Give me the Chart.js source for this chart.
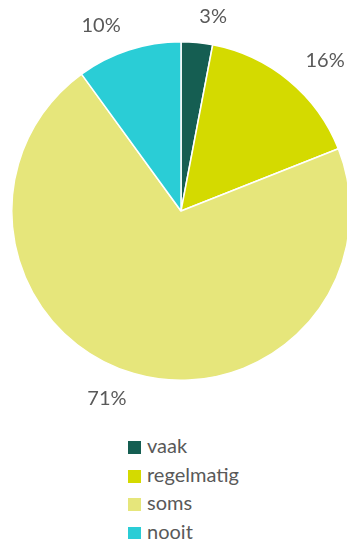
<!DOCTYPE html>
<html>
<head>
<meta charset="utf-8">
<script src="https://cdn.jsdelivr.net/npm/chart.js@4/dist/chart.umd.min.js"></script>
<style>
  html, body { margin: 0; padding: 0; background: #fff; overflow: hidden; width: 347px; height: 539px; }
  #wrap { position: absolute; left: 0; top: 0; width: 362px; height: 420px; }
  #legend { position: absolute; left: 128px; top: 431px; margin: 0; padding: 0; list-style: none;
            font-family: Lato, sans-serif; font-size: 20px; color: #595959; }
  #legend li { height: 28.7px; line-height: 28.7px; white-space: nowrap; }
  #legend span { display: inline-block; width: 13px; height: 13px; margin-right: 6px; vertical-align: -1px; }
</style>
</head>
<body>
<div id="wrap"><canvas id="pieChart" width="362" height="420"></canvas></div>
<ul id="legend"></ul>
<script>
// answers per category, in percent
const categories = ['vaak', 'regelmatig', 'soms', 'nooit'];
const percentages = [3, 16, 71, 10];
const sliceColors = ['#155e52', '#d4da00', '#e6e67b', '#2acdd6'];

// percentage labels just outside each slice
const outsideLabels = {
	id: 'outsideLabels',
	afterDatasetsDraw(chart) {
		const ctx = chart.ctx;
		const arcs = chart.getDatasetMeta(0).data;
		ctx.save();
		ctx.font = '20px Lato, sans-serif';
		ctx.fillStyle = '#595959';
		ctx.textBaseline = 'middle';
		arcs.forEach((arc, i) => {
			const mid = (arc.startAngle + arc.endAngle) / 2;
			const r = arc.outerRadius + 26;
			const x = arc.x + Math.cos(mid) * r;
			const y = arc.y + Math.sin(mid) * r;
			ctx.textAlign = Math.cos(mid) >= 0 ? 'left' : 'right';
			ctx.fillText(percentages[i] + '%', x, y);
		});
		ctx.restore();
	}
};

new Chart(document.getElementById('pieChart'), {
	type: 'pie',
	data: {
		labels: categories,
		datasets: [{
			data: percentages,
			backgroundColor: sliceColors,
			borderColor: '#ffffff',
			borderWidth: 1.5
		}]
	},
	options: {
		responsive: false,
		animation: false,
		layout: { padding: { left: 11, right: 11, top: 41, bottom: 39 } },
		plugins: {
			legend: { display: false },
			tooltip: { enabled: false }
		}
	},
	plugins: [outsideLabels]
});

// legend list under the pie
const legend = document.getElementById('legend');
categories.forEach((name, i) => {
	const li = document.createElement('li');
	const box = document.createElement('span');
	box.style.background = sliceColors[i];
	li.appendChild(box);
	li.appendChild(document.createTextNode(name));
	legend.appendChild(li);
});
</script>
</body>
</html>
